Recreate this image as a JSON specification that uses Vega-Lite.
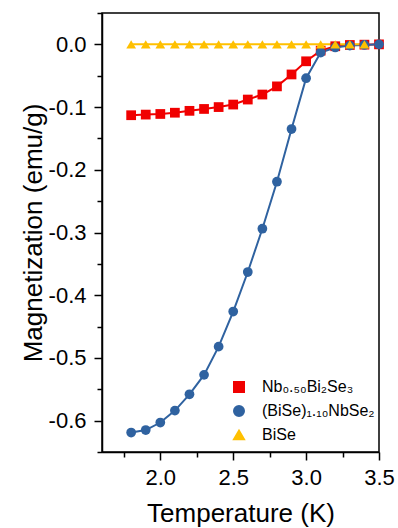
{
  "$schema": "https://vega.github.io/schema/vega-lite/v6.json",
  "width": 277,
  "height": 439,
  "autosize": {"type": "none"},
  "padding": {"left": 102, "top": 13, "right": 19, "bottom": 76},
  "background": "white",
  "config": {
    "view": {"stroke": "black", "strokeWidth": 1.5},
    "font": "Liberation Sans",
    "axis": {
      "domainColor": "black", "domainWidth": 1.5, "tickColor": "black", "tickWidth": 1.5,
      "labelFont": "Liberation Sans", "labelFontSize": 22, "labelColor": "black",
      "titleFont": "Liberation Sans", "titleFontSize": 26, "titleFontWeight": "normal", "titleColor": "black",
      "grid": false
    },
    "legend": {
      "labelFont": "Liberation Sans", "labelFontSize": 16, "labelColor": "black"
    }
  },
  "data": {"values": [
    {"T": 1.8, "M": -0.113, "s": "Nb₀.₅₀Bi₂Se₃"},
    {"T": 1.9, "M": -0.112, "s": "Nb₀.₅₀Bi₂Se₃"},
    {"T": 2.0, "M": -0.111, "s": "Nb₀.₅₀Bi₂Se₃"},
    {"T": 2.1, "M": -0.109, "s": "Nb₀.₅₀Bi₂Se₃"},
    {"T": 2.2, "M": -0.106, "s": "Nb₀.₅₀Bi₂Se₃"},
    {"T": 2.3, "M": -0.103, "s": "Nb₀.₅₀Bi₂Se₃"},
    {"T": 2.4, "M": -0.100, "s": "Nb₀.₅₀Bi₂Se₃"},
    {"T": 2.5, "M": -0.096, "s": "Nb₀.₅₀Bi₂Se₃"},
    {"T": 2.6, "M": -0.088, "s": "Nb₀.₅₀Bi₂Se₃"},
    {"T": 2.7, "M": -0.080, "s": "Nb₀.₅₀Bi₂Se₃"},
    {"T": 2.8, "M": -0.067, "s": "Nb₀.₅₀Bi₂Se₃"},
    {"T": 2.9, "M": -0.048, "s": "Nb₀.₅₀Bi₂Se₃"},
    {"T": 3.0, "M": -0.027, "s": "Nb₀.₅₀Bi₂Se₃"},
    {"T": 3.1, "M": -0.010, "s": "Nb₀.₅₀Bi₂Se₃"},
    {"T": 3.2, "M": -0.003, "s": "Nb₀.₅₀Bi₂Se₃"},
    {"T": 3.3, "M": -0.001, "s": "Nb₀.₅₀Bi₂Se₃"},
    {"T": 3.4, "M": -0.0005, "s": "Nb₀.₅₀Bi₂Se₃"},
    {"T": 3.5, "M": 0.0, "s": "Nb₀.₅₀Bi₂Se₃"},
    {"T": 1.8, "M": -0.619, "s": "(BiSe)₁.₁₀NbSe₂"},
    {"T": 1.9, "M": -0.615, "s": "(BiSe)₁.₁₀NbSe₂"},
    {"T": 2.0, "M": -0.603, "s": "(BiSe)₁.₁₀NbSe₂"},
    {"T": 2.1, "M": -0.584, "s": "(BiSe)₁.₁₀NbSe₂"},
    {"T": 2.2, "M": -0.558, "s": "(BiSe)₁.₁₀NbSe₂"},
    {"T": 2.3, "M": -0.527, "s": "(BiSe)₁.₁₀NbSe₂"},
    {"T": 2.4, "M": -0.482, "s": "(BiSe)₁.₁₀NbSe₂"},
    {"T": 2.5, "M": -0.426, "s": "(BiSe)₁.₁₀NbSe₂"},
    {"T": 2.6, "M": -0.363, "s": "(BiSe)₁.₁₀NbSe₂"},
    {"T": 2.7, "M": -0.294, "s": "(BiSe)₁.₁₀NbSe₂"},
    {"T": 2.8, "M": -0.219, "s": "(BiSe)₁.₁₀NbSe₂"},
    {"T": 2.9, "M": -0.135, "s": "(BiSe)₁.₁₀NbSe₂"},
    {"T": 3.0, "M": -0.054, "s": "(BiSe)₁.₁₀NbSe₂"},
    {"T": 3.1, "M": -0.013, "s": "(BiSe)₁.₁₀NbSe₂"},
    {"T": 3.2, "M": -0.005, "s": "(BiSe)₁.₁₀NbSe₂"},
    {"T": 3.3, "M": -0.002, "s": "(BiSe)₁.₁₀NbSe₂"},
    {"T": 3.4, "M": -0.001, "s": "(BiSe)₁.₁₀NbSe₂"},
    {"T": 3.5, "M": 0.0, "s": "(BiSe)₁.₁₀NbSe₂"},
    {"T": 1.8, "M": 0.0, "s": "BiSe"},
    {"T": 1.9, "M": 0.0, "s": "BiSe"},
    {"T": 2.0, "M": 0.0, "s": "BiSe"},
    {"T": 2.1, "M": 0.0, "s": "BiSe"},
    {"T": 2.2, "M": 0.0, "s": "BiSe"},
    {"T": 2.3, "M": 0.0, "s": "BiSe"},
    {"T": 2.4, "M": 0.0, "s": "BiSe"},
    {"T": 2.5, "M": 0.0, "s": "BiSe"},
    {"T": 2.6, "M": 0.0, "s": "BiSe"},
    {"T": 2.7, "M": 0.0, "s": "BiSe"},
    {"T": 2.8, "M": 0.0, "s": "BiSe"},
    {"T": 2.9, "M": 0.0, "s": "BiSe"},
    {"T": 3.0, "M": 0.0, "s": "BiSe"},
    {"T": 3.1, "M": 0.0, "s": "BiSe"},
    {"T": 3.2, "M": 0.0, "s": "BiSe"},
    {"T": 3.3, "M": 0.0, "s": "BiSe"},
    {"T": 3.4, "M": 0.0, "s": "BiSe"}
  ]},
  "resolve": {"axis": {"x": "independent", "y": "independent"}},
  "layer": [
    {
      "mark": {"type": "line", "strokeWidth": 2},
      "encoding": {
        "x": {
          "field": "T", "type": "quantitative",
          "scale": {"domain": [1.6, 3.5], "nice": false, "zero": false},
          "axis": {
            "orient": "bottom",
            "title": "Temperature (K)",
            "values": [2.0, 2.5, 3.0, 3.5],
            "format": ".1f",
            "tickSize": 8,
            "labelPadding": 7,
            "titlePadding": 12,
            "labelFlush": false
          }
        },
        "y": {
          "field": "M", "type": "quantitative",
          "scale": {"domain": [-0.65, 0.05], "nice": false, "zero": false},
          "axis": {
            "orient": "left",
            "title": "Magnetization (emu/g)",
            "values": [-0.6, -0.5, -0.4, -0.3, -0.2, -0.1, 0.0],
            "labelExpr": "replace(format(datum.value, '.1f'), '−', '-')",
            "tickSize": 8,
            "labelPadding": 8,
            "titlePadding": 2,
            "labelFlush": false
          }
        },
        "color": {
          "field": "s", "type": "nominal",
          "scale": {"domain": ["Nb₀.₅₀Bi₂Se₃", "(BiSe)₁.₁₀NbSe₂", "BiSe"], "range": ["#F00000", "#2F62A0", "#FFC000"]},
          "legend": {
            "orient": "none", "legendX": 129, "legendY": 366, "title": null,
            "symbolSize": 100, "symbolStrokeWidth": 2, "labelOffset": 15, "rowPadding": 6
          }
        }
      }
    },
    {
      "mark": {"type": "point", "filled": true, "opacity": 1, "size": 95},
      "encoding": {
        "x": {
          "field": "T", "type": "quantitative",
          "axis": {
            "orient": "bottom", "title": null, "labels": false, "domain": false,
            "values": [1.75, 2.25, 2.75, 3.25], "tickSize": 5
          }
        },
        "y": {
          "field": "M", "type": "quantitative",
          "axis": {
            "orient": "left", "title": null, "labels": false, "domain": false,
            "values": [-0.65, -0.55, -0.45, -0.35, -0.25, -0.15, -0.05, 0.05], "tickSize": 5
          }
        },
        "color": {
          "field": "s", "type": "nominal",
          "legend": {
            "orient": "none", "legendX": 129, "legendY": 366, "title": null,
            "symbolSize": 100, "symbolStrokeWidth": 2, "labelOffset": 15, "rowPadding": 6,
            "encode": {
              "symbols": {
                "shape": {"value": {"expr": "datum.value === 'BiSe' ? 'M-3.8,0H3.8M0,-1L1.1,0.85L-1.1,0.85Z' : (datum.value === '(BiSe)₁.₁₀NbSe₂' ? 'M-3.8,0H3.8M-0.9,0C-0.9,-0.5,-0.5,-0.9,0,-0.9C0.5,-0.9,0.9,-0.5,0.9,0C0.9,0.5,0.5,0.9,0,0.9C-0.5,0.9,-0.9,0.5,-0.9,0Z' : 'M-3.8,0H3.8M-0.8,-0.8H0.8V0.8H-0.8Z')"}},
                "fill": {"value": {"expr": "scale('color', datum.value)"}},
                "stroke": {"value": {"expr": "scale('color', datum.value)"}},
                "strokeWidth": {"value": 2},
                "opacity": {"value": 1}
              }
            }
          }
        },
        "shape": {
          "field": "s", "type": "nominal",
          "scale": {"domain": ["Nb₀.₅₀Bi₂Se₃", "(BiSe)₁.₁₀NbSe₂", "BiSe"], "range": ["square", "circle", "triangle-up"]}
        }
      }
    }
  ]
}
